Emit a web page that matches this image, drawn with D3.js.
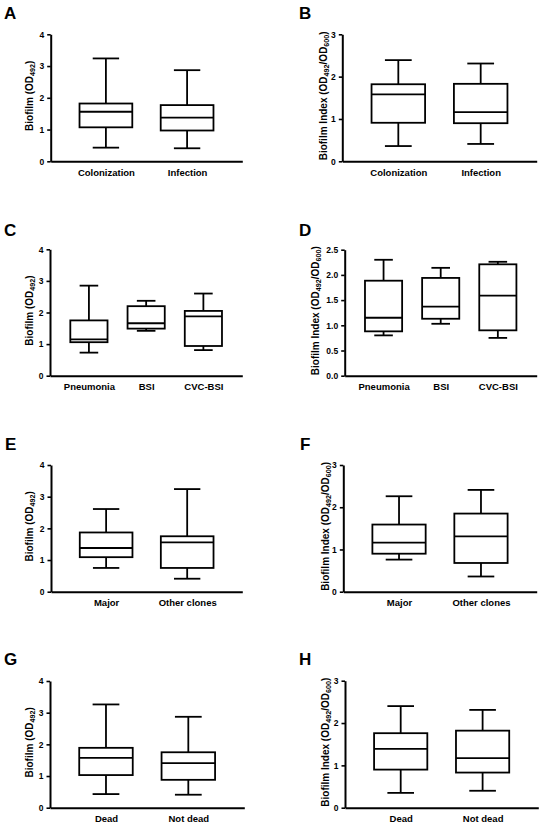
<!DOCTYPE html>
<html>
<head>
<meta charset="utf-8">
<script src="https://cdn.jsdelivr.net/npm/d3@7"></script>
<style>
  body { margin: 0; background: #fff; }
  text { font-family: "Liberation Sans", Arial, sans-serif; font-weight: bold; fill: #000; }
</style>
</head>
<body>
<div id="chart"></div>
<script>
// categories
const catColInf = ["Colonization", "Infection"]
const catSite = ["Pneumonia", "BSI", "CVC-BSI"]
const catClone = ["Major", "Other clones"]
const catOutcome = ["Dead", "Not dead"]

// box summaries per group: [min, q1, median, q3, max]
const boxA = [[0.43, 1.07, 1.56, 1.82, 3.24], [0.41, 0.97, 1.375, 1.77, 2.87]]
const boxB = [[0.36, 0.91, 1.58, 1.82, 2.39], [0.41, 0.90, 1.16, 1.83, 2.31]]
const boxC = [[0.73, 1.06, 1.15, 1.75, 2.85], [1.42, 1.49, 1.66, 2.20, 2.37], [0.81, 0.94, 1.88, 2.05, 2.60]]
const boxD = [[0.80, 0.88, 1.15, 1.885, 2.30], [1.03, 1.13, 1.37, 1.94, 2.14], [0.75, 0.90, 1.59, 2.21, 2.26]]
const boxE = [[0.75, 1.09, 1.38, 1.87, 2.61], [0.41, 0.75, 1.56, 1.75, 3.24]]
const boxF = [[0.76, 0.90, 1.16, 1.59, 2.26], [0.36, 0.68, 1.31, 1.85, 2.41]]
const boxG = [[0.43, 1.03, 1.57, 1.89, 3.26], [0.41, 0.88, 1.41, 1.75, 2.87]]
const boxH = [[0.35, 0.90, 1.39, 1.76, 2.40], [0.40, 0.83, 1.17, 1.82, 2.31]]

// tick labels
const ticksOD = [0, 1, 2, 3, 4]
const ticksIndex = [0, 1, 2, 3]
const ticksIndexD = [0, 0.5, 1.0, 1.5, 2.0, 2.5]

const width = 550, height = 829

const svg = d3.select("#chart").append("svg")
  .attr("width", width)
  .attr("height", height)

// panel frames (plot area in page pixels)
const panels = [
  { tag: "A", cats: catColInf, boxes: boxA, ticks: ticksOD, fmt: "d", label: "od",
    left: 50.7, right: 242.3, top: 34.3, bottom: 161.3, tagX: 4, tagY: 19, labX: 29.5 },
  { tag: "B", cats: catColInf, boxes: boxB, ticks: ticksIndex, fmt: "d", label: "index",
    left: 342.3, right: 536.7, top: 34.3, bottom: 161.3, tagX: 299, tagY: 19, labX: 323.5 },
  { tag: "C", cats: catSite, boxes: boxC, ticks: ticksOD, fmt: "d", label: "od",
    left: 50, right: 242.3, top: 249.3, bottom: 375.7, tagX: 4, tagY: 236, labX: 29.5 },
  { tag: "D", cats: catSite, boxes: boxD, ticks: ticksIndexD, fmt: ".1f", label: "index",
    left: 344.7, right: 536.7, top: 249.7, bottom: 375.7, tagX: 299, tagY: 236, labX: 315 },
  { tag: "E", cats: catClone, boxes: boxE, ticks: ticksOD, fmt: "d", label: "od",
    left: 51, right: 242.3, top: 465, bottom: 591.7, tagX: 5, tagY: 450, labX: 29.5 },
  { tag: "F", cats: catClone, boxes: boxF, ticks: ticksIndex, fmt: "d", label: "index",
    left: 343.3, right: 536.7, top: 465, bottom: 591.7, tagX: 300, tagY: 450, labX: 325 },
  { tag: "G", cats: catOutcome, boxes: boxG, ticks: ticksOD, fmt: "d", label: "od",
    left: 50, right: 244.3, top: 681, bottom: 807.7, tagX: 4, tagY: 665, labX: 29.5 },
  { tag: "H", cats: catOutcome, boxes: boxH, ticks: ticksIndex, fmt: "d", label: "index",
    left: 345, right: 538.3, top: 680.7, bottom: 807.7, tagX: 299, tagY: 665, labX: 325.5 }
]

function yLabel(g, p) {
  let t = g.append("text")
    .attr("transform", "translate(" + p.labX + "," + ((p.top + p.bottom) / 2 - 2) + ") rotate(-90)")
    .attr("text-anchor", "middle")
    .attr("dy", "0.35em")
    .style("font-size", "10px")
  let sub = (s) => t.append("tspan").attr("baseline-shift", "-25%").style("font-size", "7.2px").text(s)
  if (p.label === "od") {
    t.append("tspan").text("Biofilm (OD")
    sub("492")
    t.append("tspan").text(")")
  } else {
    t.append("tspan").text("Biofilm Index (OD")
    sub("492")
    t.append("tspan").text("/OD")
    sub("600")
    t.append("tspan").text(")")
  }
}

panels.forEach(p => {
  let g = svg.append("g")

  let x = d3.scalePoint().domain(p.cats).range([p.left, p.right]).padding(0.68)
  let y = d3.scaleLinear().domain([0, d3.max(p.ticks)]).range([p.bottom, p.top])
  let bw = x.step() * 0.65

  // panel letter
  g.append("text")
    .attr("x", p.tagX).attr("y", p.tagY)
    .style("font-size", "17px")
    .text(p.tag)

  // y axis
  let ya = g.append("g")
    .attr("transform", "translate(" + p.left + ",0)")
    .call(d3.axisLeft(y).tickValues(p.ticks).tickFormat(d3.format(p.fmt)).tickSize(3.5).tickSizeOuter(0).tickPadding(3))
  ya.select(".domain").attr("stroke-width", 2)
  ya.selectAll(".tick line").attr("stroke-width", 1.6)
  ya.selectAll(".tick text").style("font-size", "8.5px").attr("font-family", null)

  // x axis
  let xa = g.append("g")
    .attr("transform", "translate(0," + p.bottom + ")")
    .call(d3.axisBottom(x).tickSize(0).tickSizeOuter(0).tickPadding(8))
  xa.select(".domain").attr("stroke-width", 2)
  xa.selectAll(".tick text").style("font-size", "9.5px").attr("font-family", null)

  yLabel(g, p)

  // boxes
  let bx = g.selectAll(".box")
    .data(p.boxes.map((b, i) => ({ cat: p.cats[i], s: b })))
    .join("g")
    .attr("fill", "none")
    .attr("stroke", "#000")
    .attr("stroke-width", 1.8)

  // whiskers
  bx.append("line")
    .attr("x1", d => x(d.cat)).attr("x2", d => x(d.cat))
    .attr("y1", d => y(d.s[3])).attr("y2", d => y(d.s[4]))
  bx.append("line")
    .attr("x1", d => x(d.cat)).attr("x2", d => x(d.cat))
    .attr("y1", d => y(d.s[1])).attr("y2", d => y(d.s[0]))
  // caps
  bx.append("line")
    .attr("x1", d => x(d.cat) - bw / 4).attr("x2", d => x(d.cat) + bw / 4)
    .attr("y1", d => y(d.s[4])).attr("y2", d => y(d.s[4]))
  bx.append("line")
    .attr("x1", d => x(d.cat) - bw / 4).attr("x2", d => x(d.cat) + bw / 4)
    .attr("y1", d => y(d.s[0])).attr("y2", d => y(d.s[0]))
  // box
  bx.append("rect")
    .attr("x", d => x(d.cat) - bw / 2)
    .attr("width", bw)
    .attr("y", d => y(d.s[3]))
    .attr("height", d => y(d.s[1]) - y(d.s[3]))
    .attr("fill", "#fff")
  // median
  bx.append("line")
    .attr("x1", d => x(d.cat) - bw / 2).attr("x2", d => x(d.cat) + bw / 2)
    .attr("y1", d => y(d.s[2])).attr("y2", d => y(d.s[2]))
})
</script>
</body>
</html>
